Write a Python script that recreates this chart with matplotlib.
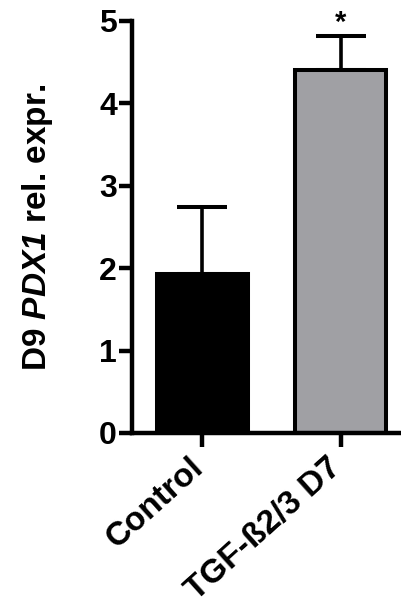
import matplotlib
matplotlib.use("Agg")
import matplotlib.pyplot as plt
from matplotlib.transforms import ScaledTranslation, blended_transform_factory

categories = ["Control", "TGF-ß2/3 D7"]
values = [1.93, 4.41]
errors_up = [0.81, 0.41]
colors = ["#000000", "#a0a0a4"]
yticks = [0, 1, 2, 3, 4, 5]

plt.rcParams['font.family'] = ['Liberation Sans', 'DejaVu Sans']
plt.rcParams['font.weight'] = 'bold'
plt.rcParams['mathtext.fontset'] = 'custom'
plt.rcParams['mathtext.rm'] = 'Liberation Sans:bold'
plt.rcParams['mathtext.it'] = 'Liberation Sans:italic:bold'
plt.rcParams['mathtext.sf'] = 'Liberation Sans:italic:bold'
plt.rcParams['mathtext.bf'] = 'Liberation Sans:bold'

W, H = 402, 613
fig = plt.figure(figsize=(W/100, H/100), dpi=100)
ax = fig.add_axes([132/W, 1-433/H, 1-132/W, (433-21)/H])

x = list(range(len(categories)))
ax.bar(x, values, width=0.66, color=colors, edgecolor='black', linewidth=2.9, zorder=2)
ax.errorbar(x, values, yerr=[[0]*len(values), errors_up], fmt='none', ecolor='black',
            elinewidth=2.6, capsize=18, capthick=2.9, zorder=1)

ax.text(1, values[1] + errors_up[1] - 0.01, "*", ha='center', va='bottom', fontsize=21, fontweight='bold')

ax.set_xlim(-0.51, 1.445)
ax.set_ylim(0, 5)
ax.set_yticks(yticks)
ax.set_xticks(x)
ax.set_xticklabels([])
trans = blended_transform_factory(ax.transData, ax.transAxes) + \
    ScaledTranslation(-14/100, -19/100, fig.dpi_scale_trans)
for xi, name in zip(x, categories):
    ax.text(xi, 0, name, transform=trans, rotation=42, ha='right', va='top',
            rotation_mode='anchor', fontsize=24, fontweight='bold', clip_on=False)
for lbl in ax.get_yticklabels():
    lbl.set_fontsize(23)
    lbl.set_fontweight('bold')

for s in ['top', 'right']:
    ax.spines[s].set_visible(False)
for s in ['left', 'bottom']:
    ax.spines[s].set_linewidth(3.2)
    ax.spines[s].set_capstyle('projecting')
ax.tick_params(axis='y', width=3.2, length=9.4, pad=1.5)
ax.tick_params(axis='x', width=3.2, length=10, pad=4)

ax.set_ylabel("D9 $\\mathsf{PDX1}$ rel. expr.", fontsize=24, fontweight='bold')
ax.yaxis.set_label_coords(-0.285, 0.5)

fig.savefig("out.png", dpi=100)
